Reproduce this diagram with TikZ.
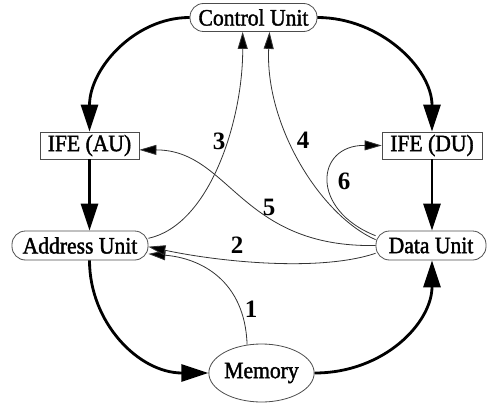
\documentclass[tikz,border=0pt]{standalone}
\usepackage{fontspec}
\setmainfont{Liberation Serif}
\newfontfamily\nodefam[FakeStretch=0.92,FakeBold=1.6]{Liberation Serif}
\usetikzlibrary{arrows.meta,shapes.geometric}
\begin{document}
\begin{tikzpicture}[x=1pt,y=-1pt,
  nodefont/.style={font=\nodefam\fontsize{23.5}{24}\selectfont},
  unitbox/.style={nodefont, draw=black!70, line width=0.8pt, rounded corners=13.5pt, inner sep=0pt},
  ifebox/.style={nodefont, draw=black!70, line width=0.8pt, inner sep=0pt},
  membox/.style={nodefont, ellipse, draw=black!70, line width=0.8pt, inner sep=0pt},
  bigedge/.style={line width=2.8pt, -{Triangle[length=27pt,width=17pt]}},
  thinedge/.style={draw=black!80, line width=0.8pt, -{Triangle[length=17pt,width=10pt,fill=black]}},
  lbl/.style={font=\fontsize{25}{26}\selectfont\bfseries, inner sep=0pt}
]
\useasboundingbox (0,0) rectangle (487,404);

\node[unitbox, minimum width=127pt, minimum height=28pt] (CU) at (253.5,17.5) {Control Unit};
\node[ifebox, minimum width=99pt, minimum height=27pt] (IFEAU) at (89.5,145.5) {IFE (AU)};
\node[ifebox, minimum width=100pt, minimum height=27pt] (IFEDU) at (432,145.5) {IFE (DU)};
\node[unitbox, minimum width=136pt, minimum height=29pt] (AU) at (80,245.5) {Address Unit};
\node[unitbox, minimum width=110pt, minimum height=29pt] (DU) at (431,245.5) {Data Unit};
\node[membox, minimum width=87pt, minimum height=58pt] (Mem) at (261.5,373) {Memory};

% thick flow
\draw[bigedge] (CU.west) .. controls +(-55,0) and +(0,-63) .. (IFEAU.north);
\draw[bigedge] (CU.east) .. controls +(63,0) and +(0,-63) .. (IFEDU.north);
\draw[bigedge] (IFEAU.south) -- (IFEAU.south |- AU.north);
\draw[bigedge] (IFEDU.south) -- (IFEDU.south |- DU.north);
\draw[bigedge] (IFEAU.south |- AU.south) .. controls +(0,62) and +(-70,0) .. (Mem.west);
\draw[bigedge] (Mem.east) .. controls +(70,0) and +(0,62) .. (IFEDU.south |- DU.south);

% thin numbered edges
\draw[thinedge] (Mem.117) .. controls (245,280) and (200,258) .. (AU.-7);
\draw[thinedge] (DU.188) .. controls (320,272) and (220,262) .. (AU.-1);
\draw[thinedge] (AU.6) .. controls (210,225) and (243,120) .. (CU.-127);
\draw[thinedge] (DU.174) .. controls (320,215) and (265,125) .. (CU.-42);
\draw[thinedge] (DU.180) .. controls (240,248) and (230,150) .. (IFEAU.-5);
\draw[thinedge] (DU.170) .. controls (310,210) and (315,145) .. (IFEDU.west);

\node[lbl] (l1) at (251,309) {1};
\node[lbl] (l2) at (237,245) {2};
\node[lbl] (l3) at (219,141) {3};
\node[lbl] (l4) at (303,140) {4};
\node[lbl] (l5) at (269,207) {5};
\node[lbl] (l6) at (344,181) {6};
\end{tikzpicture}
\end{document}
